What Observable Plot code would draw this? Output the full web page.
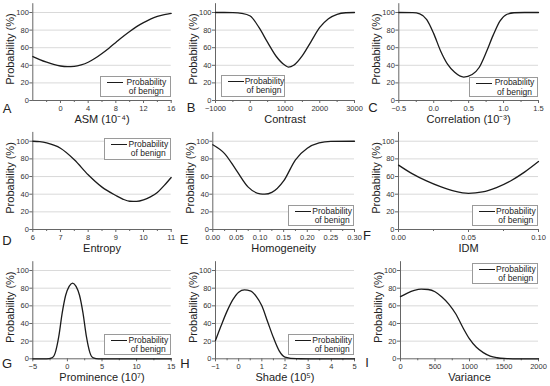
<!DOCTYPE html>
<html><head><meta charset="utf-8">
<script src="https://cdn.jsdelivr.net/npm/d3@7"></script>
<script src="https://cdn.jsdelivr.net/npm/@observablehq/plot@0.6"></script>
<style>
html,body{margin:0;padding:0;background:#fff;}
#fig{position:relative;width:550px;height:386px;overflow:hidden;font-family:"Liberation Sans",Arial,sans-serif;color:#222;}
.panel{position:absolute;}
.panel svg{overflow:visible;display:block;}
.legend{position:absolute;box-sizing:border-box;border:1px solid #9a9a9a;background:#fff;font-size:8.5px;line-height:9.5px;color:#222;}
.legend .sw{position:absolute;left:6px;top:5px;width:16px;border-top:1.3px solid #1b1b1b;}
.legend .lt{position:absolute;left:23px;right:1px;top:0.5px;text-align:center;white-space:nowrap;}
.letter{position:absolute;font-size:13px;transform:translate(-50%,-50%);line-height:1;}
</style>
</head><body>
<div id="fig"></div>
<script>
// ---------- data ----------
const yTicks = [0, 20, 40, 60, 80, 100];
const yLabel = "Probability (%)";
const legendText = ["Probability", "of benign"];

const asmX = [-4,-3,-2,-1,0,1,2,3,4,5,6,7,8,9,10,11,12,13,14,15,16];
const asmY = [50,46.5,43.5,41,39.2,38.5,38.8,40.5,43.5,48,53.5,59.5,66,72.5,78.5,84,88.5,92.5,95.5,97.5,99];
const asmTicks = [0,4,8,12,16];
const asmMinor = [-2,2,6,10,14];

const contrastX = [-1000,-750,-500,-250,0,250,500,750,1000,1100,1250,1500,1750,2000,2250,2500,2750,3000];
const contrastY = [100,100,99.8,99,96,83,66,50,40,38,40,51,67,83,93,98,99.7,100];
const contrastTicks = [-1000,0,1000,2000,3000];
const contrastMinor = [-500,500,1500,2500];

const correlationX = [-0.5,-0.3,-0.2,-0.1,0,0.1,0.2,0.3,0.43,0.55,0.65,0.75,0.85,0.95,1.05,1.15,1.3,1.5];
const correlationY = [100,99.8,98.5,92,76,56,41,32,26.6,29.5,37.5,54.5,74,90.5,98,99.7,100,100];
const correlationTicks = [-0.5,0,0.5,1,1.5];
const correlationMinor = [-0.25,0.25,0.75,1.25];

const entropyX = [6,6.25,6.5,7,7.5,8,8.5,9,9.25,9.5,9.75,10,10.25,10.5,10.75,11];
const entropyY = [100,99.5,98,92,79,62,48,38.5,34.5,32,31.8,33.5,37,42,50,59];
const entropyTicks = [6,7,8,9,10,11];
const entropyMinor = [6.5,7.5,8.5,9.5,10.5];

const homogeneityX = [0,0.025,0.05,0.075,0.1,0.11,0.125,0.15,0.175,0.2,0.225,0.25,0.3];
const homogeneityY = [96,86,67,48,40.4,40,42,55,79,92,98,99.8,100];
const homogeneityTicks = [0,0.05,0.1,0.15,0.2,0.25,0.3];
const homogeneityMinor = [0.025,0.075,0.125,0.175,0.225,0.275];

const idmX = [0,0.01,0.02,0.03,0.04,0.05,0.06,0.07,0.08,0.09,0.1];
const idmY = [73,63,55,48.5,43.5,41,42.5,47.5,55,65,77];
const idmTicks = [0,0.05,0.1];
const idmMinor = [0.025,0.075];

const prominenceX = [-5,-3,-2.25,-1.75,-1.25,-0.75,-0.25,0.25,0.75,1.25,1.75,2.25,2.75,3.25,3.75,4.5,15];
const prominenceY = [0,0,1,7,25,52,72,82,85.7,82,72,52,25,7,1,0,0];
const prominenceTicks = [-5,0,5,10,15];
const prominenceMinor = [-2.5,2.5,7.5,12.5];

const shadeX = [-1,-0.75,-0.5,-0.25,0,0.25,0.5,0.75,1,1.25,1.5,1.75,2,2.5,3,5];
const shadeY = [20.8,38,54,67,75.5,78,77,71,60,42,24,9,2,0.1,0,0];
const shadeTicks = [-1,0,1,2,3,4,5];
const shadeMinor = [-0.5,0.5,1.5,2.5,3.5,4.5];

const varianceX = [0,100,200,300,400,500,600,700,800,900,1000,1100,1200,1300,1400,1500,1700,2000];
const varianceY = [70.5,74.5,77.5,79,78.5,76,70,62,51,36,22.5,13,7,3,1.2,0.4,0,0];
const varianceTicks = [0,500,1000,1500,2000];
const varianceMinor = [250,750,1250,1750];

// ---------- panel definitions ----------
const fmtD = d3.format("d"), fmt1 = d3.format(".1f"), fmt2 = d3.format(".2f");
const panels = [
  {letter:"A", xs:asmX, ys:asmY, domain:[-4,16], ticks:asmTicks, minor:asmMinor, fmt:fmtD, label:"ASM (10\u207B\u2074)"},
  {letter:"B", xs:contrastX, ys:contrastY, domain:[-1000,3000], ticks:contrastTicks, minor:contrastMinor, fmt:fmtD, label:"Contrast"},
  {letter:"C", xs:correlationX, ys:correlationY, domain:[-0.5,1.5], ticks:correlationTicks, minor:correlationMinor, fmt:fmt1, label:"Correlation (10\u207B\u00B3)"},
  {letter:"D", xs:entropyX, ys:entropyY, domain:[6,11], ticks:entropyTicks, minor:entropyMinor, fmt:fmtD, label:"Entropy"},
  {letter:"E", xs:homogeneityX, ys:homogeneityY, domain:[0,0.3], ticks:homogeneityTicks, minor:homogeneityMinor, fmt:fmt2, label:"Homogeneity"},
  {letter:"F", xs:idmX, ys:idmY, domain:[0,0.1], ticks:idmTicks, minor:idmMinor, fmt:fmt2, label:"IDM"},
  {letter:"G", xs:prominenceX, ys:prominenceY, domain:[-5,15], ticks:prominenceTicks, minor:prominenceMinor, fmt:fmtD, label:"Prominence (10\u2077)"},
  {letter:"H", xs:shadeX, ys:shadeY, domain:[-1,5], ticks:shadeTicks, minor:shadeMinor, fmt:fmtD, label:"Shade (10\u2075)"},
  {letter:"I", xs:varianceX, ys:varianceY, domain:[0,2000], ticks:varianceTicks, minor:varianceMinor, fmt:fmtD, label:"Variance"}
];

// ---------- layout (pixels) ----------
const layout = {
  A:{l:0,t:0,w:180,h:127,mL:32.3,mR:9.3,mT:3.2,mB:27, leg:[100,76,70.7,20.7], let:[7,108]},
  B:{l:180,t:0,w:180,h:127,mL:35,mR:6,mT:3.2,mB:27, leg:[220.7,75,64.5,21.7], let:[191,107]},
  C:{l:360,t:0,w:190,h:127,mL:38.3,mR:12,mT:3.2,mB:27, leg:[469,76.5,69,20.3], let:[373,107]},
  D:{l:0,t:127,w:180,h:128,mL:32.3,mR:9.3,mT:4.9,mB:26, leg:[104,138.3,66.7,21.7], let:[7,240]},
  E:{l:180,t:127,w:180,h:128,mL:32.3,mR:6,mT:4.9,mB:26, leg:[288.3,205,65.7,20.5], let:[184,239]},
  F:{l:360,t:127,w:190,h:128,mL:38,mR:12,mT:4.9,mB:26, leg:[471.7,205,66.3,20.5], let:[367,235]},
  G:{l:0,t:255,w:180,h:131,mL:32.3,mR:9.3,mT:6.2,mB:27.7, leg:[104,334,66.7,21], let:[7,363]},
  H:{l:180,t:255,w:180,h:131,mL:35,mR:6,mT:6.2,mB:27.7, leg:[288.3,334,65.7,21], let:[185,363]},
  I:{l:360,t:255,w:190,h:131,mL:40,mR:12,mT:6.2,mB:27.7, leg:[471.7,263.3,66.3,21], let:[367,362]}
};

const fig = document.getElementById("fig");
const axisColor = "#666";

for (const p of panels) {
  const L = layout[p.letter];
  const data = p.xs.map((x, i) => ({x, y: p.ys[i]}));
  const chart = Plot.plot({
    width: L.w, height: L.h,
    marginLeft: L.mL, marginRight: L.mR, marginTop: L.mT, marginBottom: L.mB,
    style: {fontFamily: "'Liberation Sans', Arial, sans-serif", fontSize: "7.5px", color: "#333", background: "transparent", overflow: "visible"},
    x: {domain: p.domain},
    y: {domain: [0, 110]},
    marks: [
      Plot.gridY(yTicks.filter(d => d > 0), {stroke: "#cfcfcf", strokeOpacity: 1, strokeWidth: 0.8}),
      Plot.frame({anchor: "left", stroke: axisColor}),
      Plot.frame({anchor: "bottom", stroke: axisColor}),
      Plot.axisY({ticks: yTicks, tickSize: 3, tickPadding: 1, tickFormat: fmtD, label: null, stroke: axisColor}),
      Plot.axisX({ticks: p.minor, tickSize: 2, tickFormat: () => "", label: null, stroke: axisColor}),
      Plot.axisX({ticks: p.ticks, tickSize: 3, tickPadding: 2, tickFormat: p.fmt, label: null, stroke: axisColor}),
      Plot.line(data, {x: "x", y: "y", curve: "monotone-x", stroke: "#1b1b1b", strokeWidth: 1.3}),
      Plot.text([p.label], {frameAnchor: "bottom", lineAnchor: "middle", textAnchor: "middle", dy: 18.5, fontSize: 11, fill: "#222", text: d => d}),
      Plot.text([yLabel], {frameAnchor: "left", lineAnchor: "middle", textAnchor: "middle", dx: -22.5, dy: -3, rotate: -90, fontSize: 11, fill: "#222", text: d => d})
    ]
  });
  const div = document.createElement("div");
  div.className = "panel";
  div.style.left = L.l + "px";
  div.style.top = L.t + "px";
  div.appendChild(chart);
  fig.appendChild(div);

  // legend
  const lg = document.createElement("div");
  lg.className = "legend";
  lg.style.left = L.leg[0] + "px";
  lg.style.top = L.leg[1] + "px";
  lg.style.width = L.leg[2] + "px";
  lg.style.height = L.leg[3] + "px";
  const sw = document.createElement("span"); sw.className = "sw";
  const lt = document.createElement("span"); lt.className = "lt";
  lt.innerHTML = legendText.join("<br>");
  lg.appendChild(sw); lg.appendChild(lt);
  fig.appendChild(lg);

  // panel letter
  const le = document.createElement("div");
  le.className = "letter";
  le.style.left = L.let[0] + "px";
  le.style.top = L.let[1] + "px";
  le.textContent = p.letter;
  fig.appendChild(le);
}
</script>
</body></html>
